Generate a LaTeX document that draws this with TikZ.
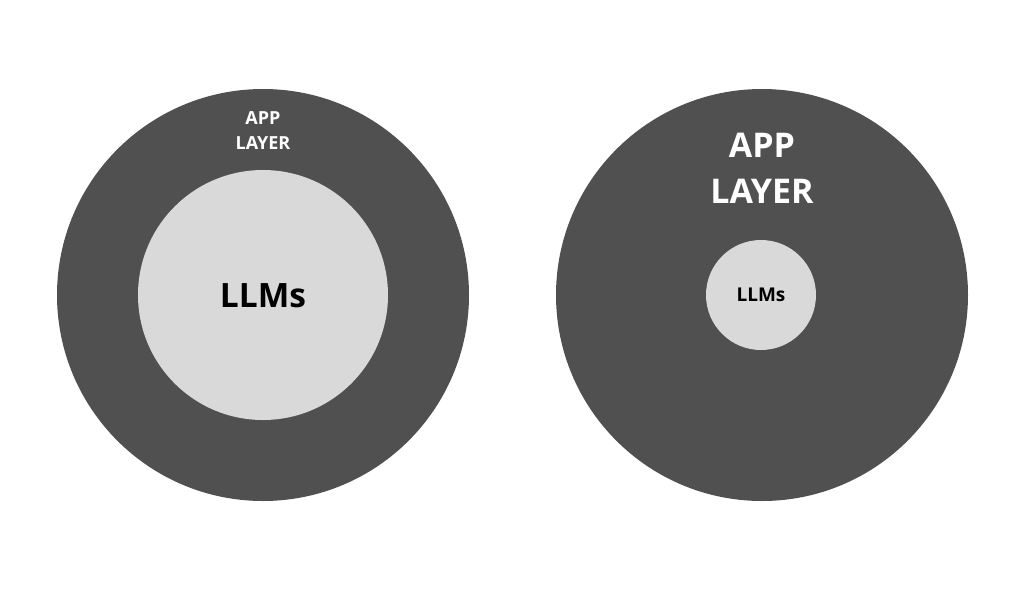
\documentclass[tikz,border=0pt]{standalone}
\usepackage{fontspec}
\setmainfont{Open Sans}
\definecolor{outergray}{HTML}{505050}
\definecolor{innergray}{HTML}{D9D9D9}
\begin{document}
\begin{tikzpicture}[x=1pt,y=-1pt,
  outerc/.style={circle,fill=outergray,draw=none,inner sep=0pt},
  innerc/.style={circle,fill=innergray,draw=none,inner sep=0pt},
  whitelbl/.style={text=white,font=\bfseries,align=center,inner sep=0pt},
  blacklbl/.style={text=black,font=\bfseries,inner sep=0pt}]
\fill[white] (0,0) rectangle (1018,598);
\useasboundingbox (0,0) rectangle (1018,598);
% left
\node[outerc,minimum size=412pt] (lo) at (263,295) {};
\node[innerc,minimum size=250pt] (li) at (263,295) {};
\node[whitelbl,font=\bfseries\fontsize{18}{25}\selectfont] (lapp) at (263,131) {APP\\LAYER};
\node[blacklbl,font=\bfseries\fontsize{33.5}{40}\selectfont] (lllm) at (263,296) {LLMs};
% right
\node[outerc,minimum size=412pt] (ro) at (762,295) {};
\node[innerc,minimum size=110pt] (ri) at (761,295) {};
\node[whitelbl,font=\bfseries\fontsize{34}{46}\selectfont] (rapp) at (762,168) {APP\\LAYER};
\node[blacklbl,font=\bfseries\fontsize{19}{22}\selectfont] (rllm) at (761,295) {LLMs};
\end{tikzpicture}
\end{document}
